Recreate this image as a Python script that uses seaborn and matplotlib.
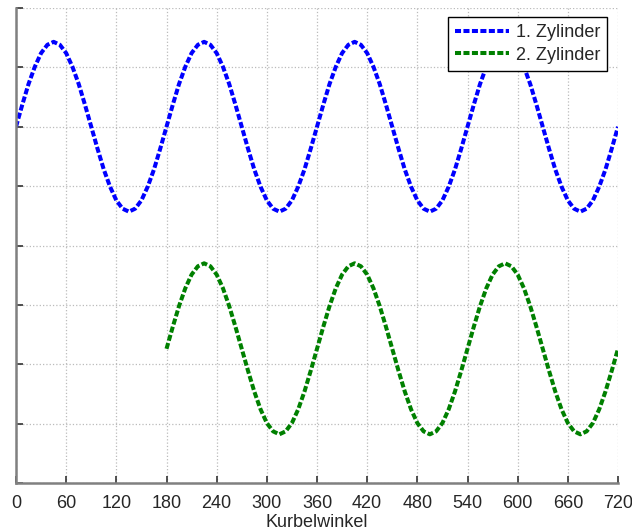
import numpy as np
import pandas as pd
import matplotlib
matplotlib.use("Agg")
import matplotlib.pyplot as plt
import seaborn as sns

# -------------------------------
# DATA (7.5 deg steps)
# -------------------------------
angle_1 = [i * 7.5 for i in range(97)]
zyl_1 = [
    6.00, 6.37, 6.72, 7.01, 7.24, 7.38, 7.43, 7.38, 7.24, 7.01, 6.72, 6.37,
    6.00, 5.63, 5.28, 4.99, 4.76, 4.62, 4.57, 4.62, 4.76, 4.99, 5.28, 5.63,
    6.00, 6.37, 6.72, 7.01, 7.24, 7.38, 7.43, 7.38, 7.24, 7.01, 6.72, 6.37,
    6.00, 5.63, 5.28, 4.99, 4.76, 4.62, 4.57, 4.62, 4.76, 4.99, 5.28, 5.63,
    6.00, 6.37, 6.72, 7.01, 7.24, 7.38, 7.43, 7.38, 7.24, 7.01, 6.72, 6.37,
    6.00, 5.63, 5.28, 4.99, 4.76, 4.62, 4.57, 4.62, 4.76, 4.99, 5.28, 5.63,
    6.00, 6.37, 6.72, 7.01, 7.24, 7.38, 7.43, 7.38, 7.24, 7.01, 6.72, 6.37,
    6.00, 5.63, 5.28, 4.99, 4.76, 4.62, 4.57, 4.62, 4.76, 4.99, 5.28, 5.63,
    6.00,
]
angle_2 = [180 + i * 7.5 for i in range(73)]
zyl_2 = [
    2.26, 2.63, 2.98, 3.28, 3.51, 3.65, 3.70, 3.65, 3.51, 3.28, 2.98, 2.63,
    2.26, 1.89, 1.54, 1.24, 1.01, 0.87, 0.82, 0.87, 1.01, 1.24, 1.54, 1.89,
    2.26, 2.63, 2.98, 3.28, 3.51, 3.65, 3.70, 3.65, 3.51, 3.28, 2.98, 2.63,
    2.26, 1.89, 1.54, 1.24, 1.01, 0.87, 0.82, 0.87, 1.01, 1.24, 1.54, 1.89,
    2.26, 2.63, 2.98, 3.28, 3.51, 3.65, 3.70, 3.65, 3.51, 3.28, 2.98, 2.63,
    2.26, 1.89, 1.54, 1.24, 1.01, 0.87, 0.82, 0.87, 1.01, 1.24, 1.54, 1.89,
    2.26,
]
labels = ["1. Zylinder", "2. Zylinder"]
x_ticks = list(range(0, 721, 60))
y_ticks = list(range(0, 9))

df = pd.concat([
    pd.DataFrame({"Kurbelwinkel": angle_1, "wert": zyl_1, "serie": labels[0]}),
    pd.DataFrame({"Kurbelwinkel": angle_2, "wert": zyl_2, "serie": labels[1]}),
])

# -------------------------------
# PLOT
# -------------------------------
sns.set_style("white")
plt.rcParams["font.family"] = ["Liberation Sans", "DejaVu Sans"]

fig = plt.figure(figsize=(6.32, 5.32), dpi=100)
ax = fig.add_axes([16 / 632, 49 / 532, 602 / 632, 475 / 532])

sns.lineplot(data=df, x="Kurbelwinkel", y="wert", hue="serie",
             palette={labels[0]: "#0000ff", labels[1]: "#008000"},
             linewidth=2.9, ax=ax, sort=False, estimator=None)
for line in ax.get_lines():
    line.set_linestyle((0, (1.5, 0.6)))
    line.set_dash_capstyle("butt")

ax.set_xlim(0, 720)
ax.set_ylim(0, 8)
ax.set_xticks(x_ticks)
ax.set_yticks(y_ticks)
ax.set_yticklabels([])
ax.set_ylabel("")
ax.set_xlabel("Kurbelwinkel", fontsize=13, labelpad=1)
ax.tick_params(axis="x", bottom=True, labelsize=13, direction="in", length=5,
               width=1.2, color="#333333", pad=9)
ax.tick_params(axis="y", left=True, direction="in", length=5, width=1.2,
               color="#333333")
ax.grid(True, linestyle=":", color="#bbbbbb", linewidth=0.9)

for side in ["top", "right"]:
    ax.spines[side].set_visible(False)
for side in ["left", "bottom"]:
    ax.spines[side].set_color("#808080")
    ax.spines[side].set_linewidth(1.8)

leg = ax.legend(loc="upper right", bbox_to_anchor=(0.982, 0.981), fontsize=13,
                frameon=True, fancybox=False, framealpha=1, handlelength=3.0,
                borderpad=0.4, labelspacing=0.3, handletextpad=0.35,
                borderaxespad=0)
leg.get_frame().set_edgecolor("black")
leg.get_frame().set_linewidth(1.0)
for h in leg.get_lines():
    h.set_linestyle((0, (1.5, 0.6)))

fig.savefig("out.png", dpi=100)
